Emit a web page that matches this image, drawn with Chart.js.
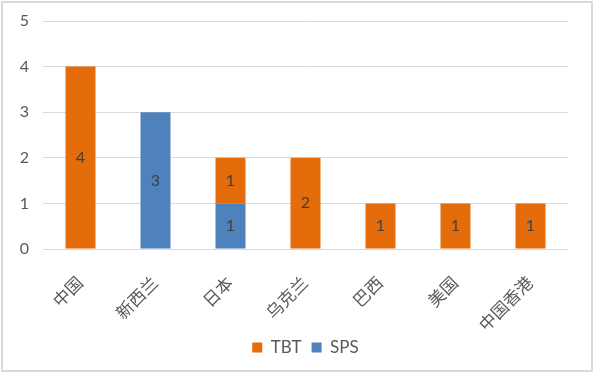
<!DOCTYPE html>
<html>
<head>
<meta charset="utf-8">
<script src="https://cdn.jsdelivr.net/npm/chart.js@4.4.1/dist/chart.umd.min.js"></script>
<style>
  html, body { margin: 0; padding: 0; background: #fff; }
  #wrap { position: absolute; left: 1px; top: 1px; width: 588px; height: 367px; border: 2px solid #d9d9d9; }
  #chart { position: absolute; left: 0; top: 0; }
</style>
</head>
<body>
<div id="wrap"><canvas id="chart" width="588" height="367"></canvas></div>
<script>
const categories = ['中国', '新西兰', '日本', '乌克兰', '巴西', '美国', '中国香港'];
const tbtValues = [4, 0, 1, 2, 1, 1, 1];
const spsValues = [0, 3, 1, 0, 0, 0, 0];
const yTicks = [0, 1, 2, 3, 4, 5];

const fontFamily = "Lato, 'Noto Sans CJK SC', sans-serif";

// value labels in the middle of each bar segment
const barLabels = {
    id: 'barLabels',
    afterDatasetsDraw(chart) {
        const ctx = chart.ctx;
        ctx.save();
        ctx.font = `16px ${fontFamily}`;
        ctx.fillStyle = '#404040';
        ctx.textAlign = 'center';
        ctx.textBaseline = 'middle';
        chart.data.datasets.forEach((ds, i) => {
            const meta = chart.getDatasetMeta(i);
            meta.data.forEach((bar, j) => {
                const v = ds.data[j];
                if (!v) return;
                ctx.fillText(String(v), bar.x, (bar.y + bar.base) / 2);
            });
        });
        ctx.restore();
    }
};

// center the legend under the plot area rather than the whole canvas
const legendShift = {
    id: 'legendShift',
    afterLayout(chart) {
        chart.legend.left = chart.chartArea.left;
    }
};

const ctx = document.getElementById('chart').getContext('2d');
new Chart(ctx, {
    type: 'bar',
    data: {
        labels: categories,
        datasets: [
            {
                label: 'SPS',
                data: spsValues,
                backgroundColor: '#4f81bd',
                barPercentage: 0.8,
                categoryPercentage: 0.5
            },
            {
                label: 'TBT',
                data: tbtValues,
                backgroundColor: '#e46c0a',
                barPercentage: 0.8,
                categoryPercentage: 0.5
            }
        ]
    },
    options: {
        responsive: false,
        animation: false,
        layout: { padding: { top: 18, right: 23, bottom: 4, left: 0 } },
        plugins: {
            legend: {
                position: 'bottom',
                reverse: true,
                labels: {
                    boxWidth: 10,
                    boxHeight: 10,
                    padding: 10,
                    color: '#595959',
                    font: { size: 17, family: fontFamily }
                }
            },
            tooltip: { enabled: false }
        },
        scales: {
            x: {
                stacked: true,
                grid: { display: false },
                border: { display: false },
                ticks: {
                    color: '#595959',
                    font: { size: 17, family: fontFamily },
                    minRotation: 45,
                    maxRotation: 45,
                    padding: 16
                },
                afterFit: (scale) => { scale.height = 80; }
            },
            y: {
                stacked: true,
                min: 0,
                max: 5,
                grid: { color: '#d9d9d9', lineWidth: 1, drawTicks: false },
                border: { display: false },
                afterBuildTicks: (scale) => { scale.ticks = yTicks.map(v => ({ value: v })); },
                ticks: {
                    color: '#595959',
                    font: { size: 16, family: fontFamily },
                    padding: 14
                },
                afterFit: (scale) => {
                    scale.width = 40;
                    scale.paddingTop = 0;
                    scale.paddingBottom = 0;
                }
            }
        }
    },
    plugins: [barLabels, legendShift]
});
</script>
</body>
</html>
